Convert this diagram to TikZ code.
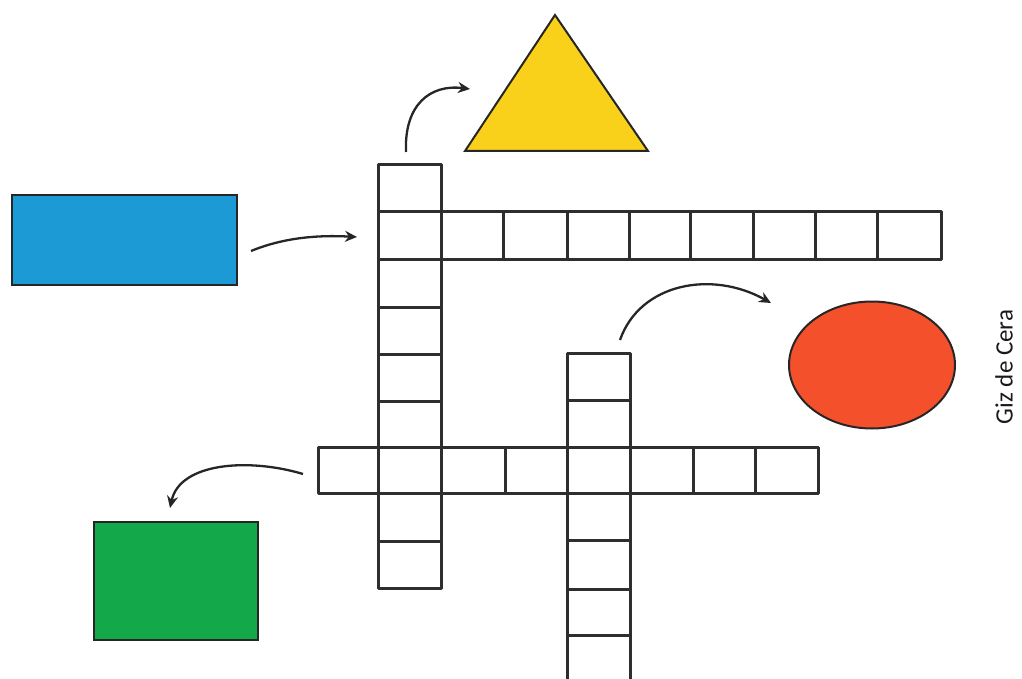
\documentclass[tikz,border=0pt]{standalone}
\usepackage{fontspec}
\setmainfont{Carlito}
\usetikzlibrary{arrows.meta,shapes.geometric}
\definecolor{cblue}{HTML}{1C9AD6}
\definecolor{cyellow}{HTML}{F9D11B}
\definecolor{cred}{HTML}{F4502B}
\definecolor{cgreen}{HTML}{13A94A}
\definecolor{gridc}{HTML}{2E2E2E}
\begin{document}
\begin{tikzpicture}[x=1pt,y=-1pt,
  gridline/.style={draw=gridc, line width=3pt, line join=round},
  conn/.style={draw=black!85, line width=2.3pt, -{Stealth[length=12pt,width=11pt]}},
  shp/.style={draw=black!85, line width=2pt, inner sep=0pt, outer sep=0pt}]
\useasboundingbox (0,0) rectangle (1022,679);
\clip (0,0) rectangle (1022,679);
% shapes
\node[shp, fill=cblue, rectangle, minimum width=225pt, minimum height=90pt] (blue) at (124.5,240) {};
\node[shp, fill=cgreen, rectangle, minimum width=164pt, minimum height=118pt] (green) at (176,581) {};
\node[shp, fill=cred, ellipse, minimum width=166pt, minimum height=127pt] (red) at (872,365) {};
\coordinate (tA) at (555,15);
\coordinate (tB) at (648,151);
\coordinate (tC) at (465,151);
\filldraw[shp, fill=cyellow] (tA) -- (tB) -- (tC) -- cycle;
% grid: column 1
\foreach \a/\b in {165/211,211/259,259/307,307/354,354/401,401/447,447/493,493/541,541/588}
  \draw[gridline] (378,\a) rectangle (441,\b);
% row 1
\foreach \a/\b in {441/503,503/567,567/629,629/690,690/753,753/815,815/877,877/941}
  \draw[gridline] (\a,211) rectangle (\b,259);
% row 2
\foreach \a/\b in {318/378,378/441,441/505,505/567,567/630,630/693,693/755,755/818}
  \draw[gridline] (\a,447) rectangle (\b,493);
% column 2
\foreach \a/\b in {353/400,400/447,447/493,493/540,540/589,589/635}
  \draw[gridline] (567,\a) rectangle (630,\b);
\draw[gridline] (567,635) -- (567,690);
\draw[gridline] (630,635) -- (630,690);
% arrow end points
\coordinate (s1) at (251,251); \coordinate (e1) at (357,237);
\coordinate (s2) at (406,152); \coordinate (e2) at (470,89);
\coordinate (s3) at (620,340); \coordinate (e3) at (771,303);
\coordinate (s4) at (303,474); \coordinate (e4) at (170,508);
\draw[conn] (s1) .. controls (285,237) and (320,235) .. (e1);
\draw[conn] (s2) .. controls (404,105) and (430,84) .. (e2);
\draw[conn] (s3) .. controls (640,283) and (712,270) .. (e3);
\draw[conn] (s4) .. controls (250,458) and (180,462) .. (e4);
% label
\node[rotate=90, font=\fontsize{25}{30}\selectfont, text=black!90] (lbl) at (1004,367) {Giz de Cera};
\end{tikzpicture}
\end{document}
